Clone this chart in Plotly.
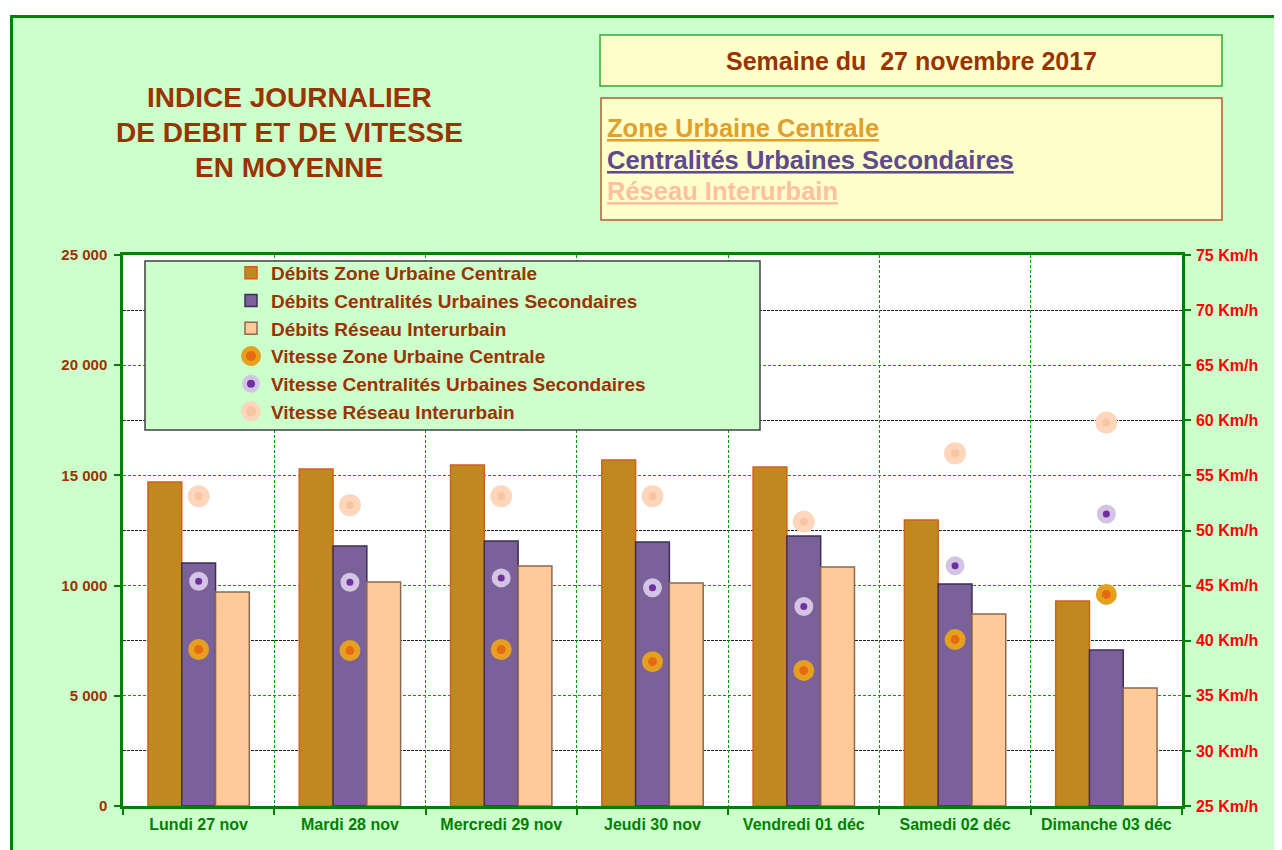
import plotly.graph_objects as go

days = ["Lundi 27 nov", "Mardi 28 nov", "Mercredi 29 nov", "Jeudi 30 nov",
        "Vendredi 01 déc", "Samedi 02 déc", "Dimanche 03 déc"]

debit_zuc = [14700, 15290, 15470, 15700, 15380, 12980, 9300]
debit_cus = [11030, 11800, 12020, 11980, 12250, 10070, 7080]
debit_ri = [9710, 10160, 10890, 10120, 10840, 8710, 5350]

vit_zuc = [39.2, 39.1, 39.2, 38.1, 37.3, 40.1, 44.2]
vit_cus = [45.4, 45.3, 45.7, 44.8, 43.1, 46.8, 51.5]
vit_ri = [53.1, 52.3, 53.1, 53.1, 50.8, 57.0, 59.8]

title_lines = ["INDICE JOURNALIER", "DE DEBIT ET DE VITESSE", "EN MOYENNE"]
week_text = "Semaine du\u00a0 27 novembre 2017"
zones = ["Zone Urbaine Centrale", "Centralités Urbaines Secondaires", "Réseau Interurbain"]

BROWN = "#993300"
FONT = "Liberation Sans, Arial, sans-serif"

fig = go.Figure()

fig.add_trace(go.Bar(x=days, y=debit_zuc, name="Débits Zone Urbaine Centrale",
                     marker=dict(color="#C0881E", line=dict(color="#D06020", width=1.5)),
                     legendgroup="a"))
fig.add_trace(go.Bar(x=days, y=debit_cus, name="Débits Centralités Urbaines Secondaires",
                     marker=dict(color="#7B6199", line=dict(color="#3E2E55", width=1.5)),
                     legendgroup="b"))
fig.add_trace(go.Bar(x=days, y=debit_ri, name="Débits Réseau Interurbain",
                     marker=dict(color="#FFCA98", line=dict(color="#8A6A50", width=1.5)),
                     legendgroup="c"))

fig.add_trace(go.Scatter(x=days, y=vit_zuc, yaxis="y2", mode="markers",
                         name="Vitesse Zone Urbaine Centrale", legendgroup="d",
                         marker=dict(symbol="circle", size=15, color="#E86A10",
                                     line=dict(color="#E6A020", width=6))))
fig.add_trace(go.Scatter(x=days, y=vit_cus, yaxis="y2", mode="markers",
                         name="Vitesse Centralités Urbaines Secondaires", legendgroup="e",
                         marker=dict(symbol="circle", size=13, color="#7030A0",
                                     line=dict(color="#D2C4E2", width=6))))
fig.add_trace(go.Scatter(x=days, y=vit_ri, yaxis="y2", mode="markers",
                         name="Vitesse Réseau Interurbain", legendgroup="f",
                         marker=dict(symbol="circle", size=15, color="#F9C4A0",
                                     line=dict(color="#FDD6BC", width=7))))

OFF = 8  # browser body margin
W, H = 1274, 842
# plot area in screen pixels: x 123..1182, y 255..806
L, T = 123 - OFF, 255 - OFF
R = W - (1182 - OFF)
B = H - (806 - OFF)
pw, ph = W - L - R, H - T - B


def px(s):
    return (s - OFF - L) / pw


def py(s):
    return (H - B - (s - OFF)) / ph


shapes = [
    # page border
    dict(type="rect", xref="paper", yref="paper", x0=px(11.5), x1=px(1300), y0=py(16.5), y1=py(880),
         line=dict(color="#008000", width=3), fillcolor="rgba(0,0,0,0)", layer="above"),
    # white margins outside border
    dict(type="rect", xref="paper", yref="paper", x0=px(0), x1=px(10), y0=py(0), y1=py(880),
         line=dict(width=0), fillcolor="white", layer="above"),
    dict(type="rect", xref="paper", yref="paper", x0=px(0), x1=px(1300), y0=py(0), y1=py(15),
         line=dict(width=0), fillcolor="white", layer="above"),
    # legend box
    dict(type="rect", xref="paper", yref="paper", x0=px(145), x1=px(760), y0=py(261), y1=py(430),
         line=dict(color="#404040", width=1.5), fillcolor="#CCFFCC", layer="above"),
    # week box
    dict(type="rect", xref="paper", yref="paper", x0=px(600), x1=px(1222), y0=py(35), y1=py(86),
         line=dict(color="#33AA33", width=1.5), fillcolor="#FFFFCC", layer="above"),
    # zones box
    dict(type="rect", xref="paper", yref="paper", x0=px(601), x1=px(1222), y0=py(98), y1=py(220),
         line=dict(color="#B06030", width=1.5), fillcolor="#FFFFCC", layer="above"),
]

annotations = []
for txt, yy in zip(title_lines, [98, 133, 167]):
    annotations.append(dict(xref="paper", yref="paper", x=px(289), y=py(yy),
                            xanchor="center", yanchor="middle", text="<b>" + txt + "</b>",
                            showarrow=False, font=dict(family=FONT, size=28, color=BROWN)))
annotations.append(dict(xref="paper", yref="paper", x=px(911), y=py(61), xanchor="center",
                        yanchor="middle", text="<b>" + week_text + "</b>", showarrow=False,
                        font=dict(family=FONT, size=25, color=BROWN)))
for txt, yy, col in zip(zones, [128, 160, 191], ["#E0A030", "#5E4A8C", "#FFC0A0"]):
    annotations.append(dict(xref="paper", yref="paper", x=px(605), y=py(yy), xanchor="left",
                            yanchor="middle", text="<b><u>" + txt + "</u></b>", showarrow=False,
                            font=dict(family=FONT, size=25.5, color=col)))

fig.update_layout(
    width=W, height=H,
    margin=dict(l=L, r=R, t=T, b=B, pad=0),
    paper_bgcolor="#CCFFCC",
    plot_bgcolor="white",
    barmode="group",
    bargap=0.33,
    bargroupgap=0,
    separators=", ",
    font=dict(family=FONT, color=BROWN),
    shapes=shapes,
    annotations=annotations,
    showlegend=True,
    legend=dict(x=px(231), y=py(254), xanchor="left", yanchor="top",
                bgcolor="rgba(0,0,0,0)", borderwidth=0,
                font=dict(family=FONT, size=19, color=BROWN, weight="bold"),
                tracegroupgap=8, traceorder="normal", itemsizing="trace"),
    xaxis=dict(
        type="category", tickson="boundaries", showgrid=True,
        gridcolor="#00A000", griddash="3px,2px", gridwidth=1,
        showline=True, linecolor="#008000", linewidth=2.5, mirror=True,
        ticks="outside", ticklen=6, tickcolor="#008000", tickwidth=2,
        tickfont=dict(family=FONT, size=16, color="#008000", weight="bold"),
        range=[-0.5, 6.5], ticklabelstandoff=2,
    ),
    yaxis=dict(
        range=[0, 25000], dtick=5000, tickformat=",.0f",
        showgrid=True, gridcolor="#00A000", griddash="3px,2px", gridwidth=1,
        minor=dict(dtick=2500, showgrid=True, gridcolor="#222222", griddash="3px,1px", gridwidth=1),
        showline=True, linecolor="#008000", linewidth=2.5,
        ticks="outside", ticklen=6, tickcolor="#008000", tickwidth=2,
        tickfont=dict(family=FONT, size=15, color=BROWN, weight="bold"),
        zeroline=False, ticklabelstandoff=4,
    ),
    yaxis2=dict(
        overlaying="y", side="right", range=[25, 75], dtick=5, ticksuffix=" Km/h",
        showgrid=False, showline=True, linecolor="#008000", linewidth=2.5,
        ticks="outside", ticklen=6, tickcolor="#008000", tickwidth=2,
        tickfont=dict(family=FONT, size=16, color="#FF0000", weight="bold"),
        zeroline=False, ticklabelstandoff=2,
    ),
)

fig.write_html("out.html")
